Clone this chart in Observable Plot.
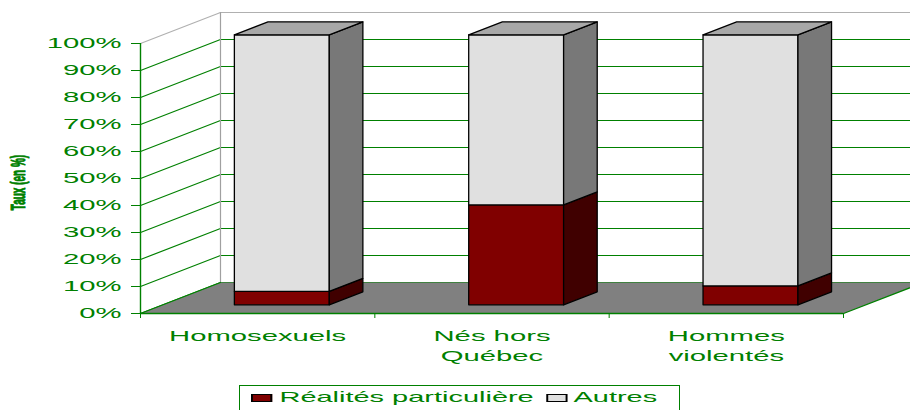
<!DOCTYPE html>
<html><head><meta charset="utf-8">
<script src="https://cdn.jsdelivr.net/npm/d3@7"></script>
<script src="https://cdn.jsdelivr.net/npm/@observablehq/plot@0.6"></script>
<style>
html,body{margin:0;padding:0;background:#fff;overflow:hidden;}
#wrap{position:relative;width:910px;height:410px;overflow:hidden;font-family:"Liberation Sans",Arial,sans-serif;}
#chart svg{overflow:hidden;display:block;}
#legend{position:absolute;left:239px;top:385px;width:439px;height:40px;border:1.5px solid #008000;}
#legend .inner{position:absolute;left:10.5px;top:2.3px;white-space:nowrap;font-size:15px;line-height:18px;color:#008000;transform:scaleX(1.93);transform-origin:0 0;}
.sw{display:inline-block;width:8.6px;height:6.5px;border:1px solid #000;vertical-align:baseline;}
</style></head><body>
<div id="wrap"><div id="chart"></div><div id="legend"></div></div>
<script>
// ---- data ----
const categories = ["Homosexuels", "Nés hors\nQuébec", "Hommes\nviolentés"];
const realites = [5, 37, 7];
const autres = [95, 63, 93];
const seriesNames = ["Réalités particulière", "Autres"];
const seriesColors = ["#800000", "#e0e0e0"];
const yTicks = [0, 10, 20, 30, 40, 50, 60, 70, 80, 90, 100];
const yTitle = "Taux (en %)";

// ---- 3D layout constants ----
const GREEN = "#008000";
const DX = 80 / 234.33;   // depth offset in category units
const DY = 31 / 2.70;     // depth offset in value units
const BAR_X0 = 0.305, BAR_X1 = 0.71, BAR_D0 = 0.28, BAR_D1 = 0.70;
const sideColors = ["#400000", "#787878"];
const topColor = "#a8a8a8";
const P = (x, v, d) => ({x: x + d * DX, y: v + d * DY});

// gridlines on side and back walls
const grid = [];
yTicks.forEach(v => {
  const col = v === 100 ? "#b0b0b0" : GREEN;
  [P(0, v, 0), P(0, v, 1), P(3.2, v, 1)].forEach(p => grid.push({id: "g" + v, stroke: col, ...p}));
});
[P(0, 0, 1), P(0, 100, 1)].forEach(p => grid.push({id: "back", stroke: "#a0a0a0", ...p}));

// floor
const floor = [P(0, 0, 0), P(3, 0, 0), P(3, 0, 1), P(0, 0, 1)].map(p => ({id: "floor", ...p}));
const floorEdges = [];
[P(0, 0, 0), P(0, 0, 1)].forEach(p => floorEdges.push({id: "fl", ...p}));
[P(3, 0, 0), P(3, 0, 1.2)].forEach(p => floorEdges.push({id: "fr", ...p}));

// bar faces
const faces = [];
categories.forEach((c, i) => {
  const segs = [[0, realites[i]], [realites[i], realites[i] + autres[i]]];
  const x0 = i + BAR_X0, x1 = i + BAR_X1;
  segs.forEach(([v0, v1], s) => {
    const add = (id, fill, pts) => pts.forEach(p => faces.push({id: `${i}-${s}-${id}`, fill, ...p}));
    add("front", seriesColors[s], [P(x0, v0, BAR_D0), P(x1, v0, BAR_D0), P(x1, v1, BAR_D0), P(x0, v1, BAR_D0)]);
    add("side", sideColors[s], [P(x1, v0, BAR_D0), P(x1, v0, BAR_D1), P(x1, v1, BAR_D1), P(x1, v1, BAR_D0)]);
    if (s === segs.length - 1)
      add("top", topColor, [P(x0, v1, BAR_D0), P(x1, v1, BAR_D0), P(x1, v1, BAR_D1), P(x0, v1, BAR_D1)]);
  });
});

const catData = categories.map((name, i) => ({name, i}));

const chart = Plot.plot({
  width: 910,
  height: 383,
  marginLeft: 140,
  marginRight: 67,
  marginTop: 43,
  marginBottom: 70,
  style: {fontFamily: "Liberation Sans, Arial, sans-serif", fontSize: "15px", color: GREEN, background: "white", overflow: "hidden"},
  color: {type: "identity"},
  x: {domain: [0, 3], ticks: [0, 1, 2, 3], tickFormat: () => "", tickSize: 5, label: null},
  y: {domain: [0, 100], ticks: yTicks, tickFormat: d => d + "%", tickSize: 9, tickPadding: 10, label: null},
  marks: [
    Plot.line(grid, {x: "x", y: "y", z: "id", stroke: "stroke", strokeWidth: 1.2}),
    Plot.line(floor, {x: "x", y: "y", z: "id", fill: "#808080", stroke: "none", curve: "linear-closed"}),
    Plot.line(floorEdges, {x: "x", y: "y", z: "id", stroke: GREEN, strokeWidth: 1.3}),
    Plot.line(faces, {x: "x", y: "y", z: "id", fill: "fill", stroke: "#000", strokeWidth: 1.3, curve: "linear-closed"}),
    Plot.ruleX([0], {y1: 0, y2: 100, stroke: GREEN, strokeWidth: 1.4}),
    Plot.ruleY([0], {x1: 0, x2: 3, stroke: GREEN, strokeWidth: 1.4}),
    Plot.text(catData, {x: d => d.i + 0.5, y: d => 0, text: "name", lineAnchor: "top", dy: 14, lineHeight: 1.3, fontSize: 15, fill: GREEN}),
    Plot.text([yTitle], {frameAnchor: "left", textAnchor: "middle", dx: -122, dy: 4, rotate: -90, fontSize: 10, fontWeight: "bold", fill: GREEN, stroke: GREEN, strokeWidth: 0.5})
  ]
});
document.getElementById("chart").appendChild(chart);

// horizontal stretch of all text (as in the reference)
const S = 1.95;
chart.querySelectorAll("text").forEach(t => {
  const isTitle = t.textContent === yTitle;
  if (!isTitle) t.style.fontSize = "15px";
  const g = document.createElementNS("http://www.w3.org/2000/svg", "g");
  t.parentNode.insertBefore(g, t);
  g.appendChild(t);
  const b = g.getBBox();
  const anchor = getComputedStyle(t).textAnchor;
  const ax = isTitle ? b.x + b.width / 2 : anchor === "end" ? b.x + b.width : anchor === "start" ? b.x : b.x + b.width / 2;
  g.setAttribute("transform", `translate(${ax},0) scale(${S},1) translate(${-ax},0)`);
});

// legend
const inner = document.createElement("div");
inner.className = "inner";
seriesNames.forEach((n, k) => {
  const sw = document.createElement("span");
  sw.className = "sw";
  sw.style.background = seriesColors[k];
  if (k > 0) sw.style.marginLeft = "2.5px";
  inner.appendChild(sw);
  inner.appendChild(document.createTextNode(" " + n + (k < seriesNames.length - 1 ? " " : "")));
});
document.getElementById("legend").appendChild(inner);
</script>
</body></html>
